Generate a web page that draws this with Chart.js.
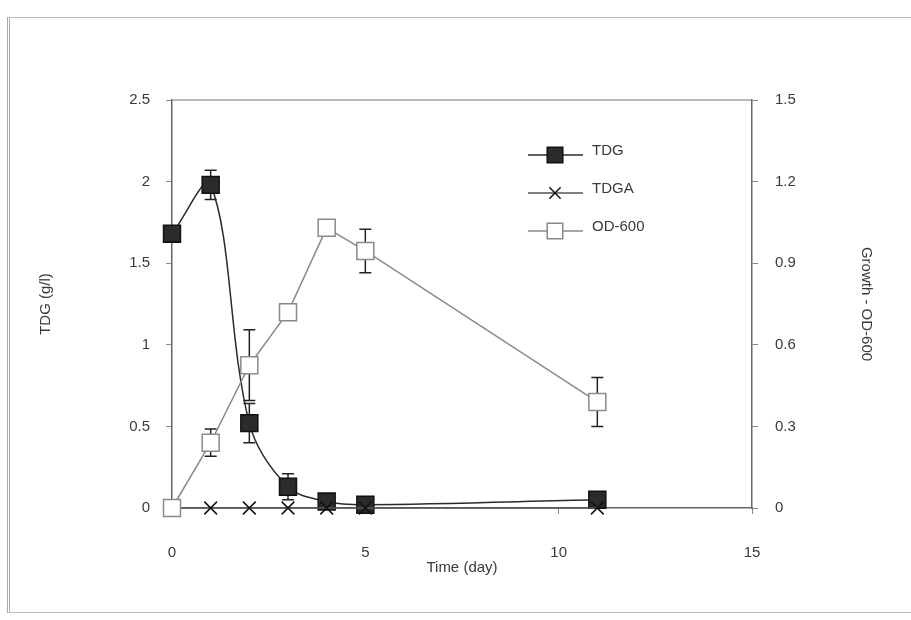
<!DOCTYPE html>
<html>
<head>
<meta charset="utf-8">
<script src="https://cdn.jsdelivr.net/npm/chart.js@4/dist/chart.umd.min.js"></script>
<style>
  body { margin: 0; background: #fff; }
  #wrap { position: relative; width: 911px; height: 620px; }
  #frame { position: absolute; left: 7px; top: 17px; width: 920px; height: 594px;
           border-left: 3px double #aaa; border-top: 1px solid #bbb; border-bottom: 1px solid #bbb; }
  canvas { position: absolute; left: 0; top: 0; }
</style>
</head>
<body>
<div id="wrap">
  <div id="frame"></div>
  <canvas id="chart" width="911" height="620"></canvas>
</div>
<script>
// data
const days = [0, 1, 2, 3, 4, 5, 11];
const tdg = [1.68, 1.98, 0.52, 0.13, 0.04, 0.02, 0.05];
const tdgErr = [0, 0.09, 0.12, 0.08, 0, 0, 0];
const tdga = [0, 0, 0, 0, 0, 0, 0];
const od600 = [0, 0.24, 0.525, 0.72, 1.03, 0.945, 0.39];
const odErr = [0, 0.05, 0.13, 0, 0, 0.08, 0.09];
const xTicks = [0, 5, 10, 15];

const font = { family: "'Liberation Sans', Arial, sans-serif", size: 15 };
const textColor = '#3a3a3a';

function pts(vals) {
    return days.map((d, i) => ({ x: d, y: vals[i] }));
}

// error bars drawn under the markers
const errorBars = {
    id: 'errorBars',
    beforeDatasetsDraw(chart) {
        const ctx = chart.ctx;
        chart.data.datasets.forEach((ds, di) => {
            if (!ds.errors) return;
            const meta = chart.getDatasetMeta(di);
            const scale = chart.scales[ds.yAxisID];
            ctx.save();
            ctx.strokeStyle = '#222';
            ctx.lineWidth = 1.5;
            meta.data.forEach((pt, i) => {
                const e = ds.errors[i];
                if (!e) return;
                const v = ds.data[i].y;
                const top = scale.getPixelForValue(v + e);
                const bot = scale.getPixelForValue(v - e);
                ctx.beginPath();
                ctx.moveTo(pt.x, top); ctx.lineTo(pt.x, bot);
                ctx.moveTo(pt.x - 6, top); ctx.lineTo(pt.x + 6, top);
                ctx.moveTo(pt.x - 6, bot); ctx.lineTo(pt.x + 6, bot);
                ctx.stroke();
            });
            ctx.restore();
        });
    }
};

// top frame line of the plot box + legend inside the plot
const boxAndLegend = {
    id: 'boxAndLegend',
    afterDraw(chart) {
        const ctx = chart.ctx;
        const a = chart.chartArea;
        ctx.save();
        ctx.strokeStyle = '#777';
        ctx.lineWidth = 1.2;
        ctx.beginPath();
        ctx.moveTo(a.left, a.top); ctx.lineTo(a.right, a.top);
        ctx.stroke();

        const items = [
            { label: 'TDG', y: 155, line: '#2a2a2a', style: 'rect', fill: '#2b2b2b', stroke: '#111' },
            { label: 'TDGA', y: 193, line: '#555', style: 'crossRot', fill: '#000', stroke: '#111' },
            { label: 'OD-600', y: 231, line: '#888', style: 'rect', fill: '#fff', stroke: '#888' }
        ];
        items.forEach(it => {
            ctx.strokeStyle = it.line;
            ctx.lineWidth = 1.3;
            ctx.beginPath();
            ctx.moveTo(528, it.y); ctx.lineTo(583, it.y);
            ctx.stroke();
            ctx.fillStyle = it.fill;
            ctx.strokeStyle = it.stroke;
            ctx.lineWidth = 1.5;
            Chart.helpers.drawPoint(ctx, { pointStyle: it.style, radius: it.style === 'rect' ? 11 : 8, borderWidth: 1.5 }, 555, it.y);
            ctx.fillStyle = textColor;
            ctx.font = "15px 'Liberation Sans', Arial, sans-serif";
            ctx.textBaseline = 'middle';
            ctx.fillText(it.label, 592, it.y - 4);
        });
        ctx.restore();
    }
};

new Chart(document.getElementById('chart'), {
    type: 'line',
    data: {
        datasets: [
            {
                label: 'TDG',
                data: pts(tdg),
                errors: tdgErr,
                yAxisID: 'y',
                order: 2,
                borderColor: '#2a2a2a',
                borderWidth: 1.5,
                backgroundColor: '#2b2b2b',
                pointStyle: 'rect',
                pointRadius: 12,
                pointBorderColor: '#111',
                pointBorderWidth: 1.5,
                tension: 0.35,
                clip: false
            },
            {
                label: 'TDGA',
                data: pts(tdga),
                yAxisID: 'y',
                order: 1,
                borderColor: '#555',
                borderWidth: 1.3,
                pointStyle: 'crossRot',
                pointRadius: 9,
                pointBorderColor: '#111',
                pointBorderWidth: 1.5,
                tension: 0,
                clip: false
            },
            {
                label: 'OD-600',
                data: pts(od600),
                errors: odErr,
                yAxisID: 'y2',
                order: 0,
                borderColor: '#8a8a8a',
                borderWidth: 1.5,
                backgroundColor: '#fff',
                pointStyle: 'rect',
                pointRadius: 12,
                pointBorderColor: '#8a8a8a',
                pointBorderWidth: 1.5,
                tension: 0,
                clip: false
            }
        ]
    },
    options: {
        responsive: false,
        animation: false,
        layout: { padding: { top: 100, left: 0, right: 0, bottom: 0 } },
        plugins: { legend: { display: false }, tooltip: { enabled: false } },
        scales: {
            x: {
                type: 'linear',
                position: 'bottom',
                min: 0, max: 15,
                afterBuildTicks: s => { s.ticks = xTicks.map(v => ({ value: v })); },
                afterFit: s => { s.height = 112; },
                grid: { drawOnChartArea: false, tickLength: 6, color: '#888' },
                border: { color: '#666', width: 1.5 },
                ticks: { color: textColor, font: font, padding: 30, maxRotation: 0 },
                title: { display: true, text: 'Time (day)', color: textColor, font: font, padding: { top: 0, bottom: 43 } }
            },
            y: {
                position: 'left',
                min: 0, max: 2.5,
                ticks: {
                    stepSize: 0.5, color: textColor, font: font, padding: 16,
                    callback: v => String(Number(v.toFixed(1)))
                },
                afterFit: s => { s.width = 172; },
                grid: { drawOnChartArea: false, tickLength: 6, color: '#888' },
                border: { color: '#666', width: 1.5 },
                title: { display: true, text: 'TDG (g/l)', color: textColor, font: font, padding: { top: 37, bottom: 0 } }
            },
            y2: {
                position: 'right',
                min: 0, max: 1.5,
                ticks: {
                    stepSize: 0.3, color: textColor, font: font, padding: 17,
                    callback: v => String(Number(v.toFixed(1)))
                },
                afterFit: s => { s.width = 159; },
                grid: { drawOnChartArea: false, tickLength: 6, color: '#888' },
                border: { color: '#666', width: 1.5 },
                title: { display: true, text: 'Growth - OD-600', color: textColor, font: font, padding: { top: 36, bottom: 0 } }
            }
        }
    },
    plugins: [errorBars, boxAndLegend]
});
</script>
</body>
</html>
